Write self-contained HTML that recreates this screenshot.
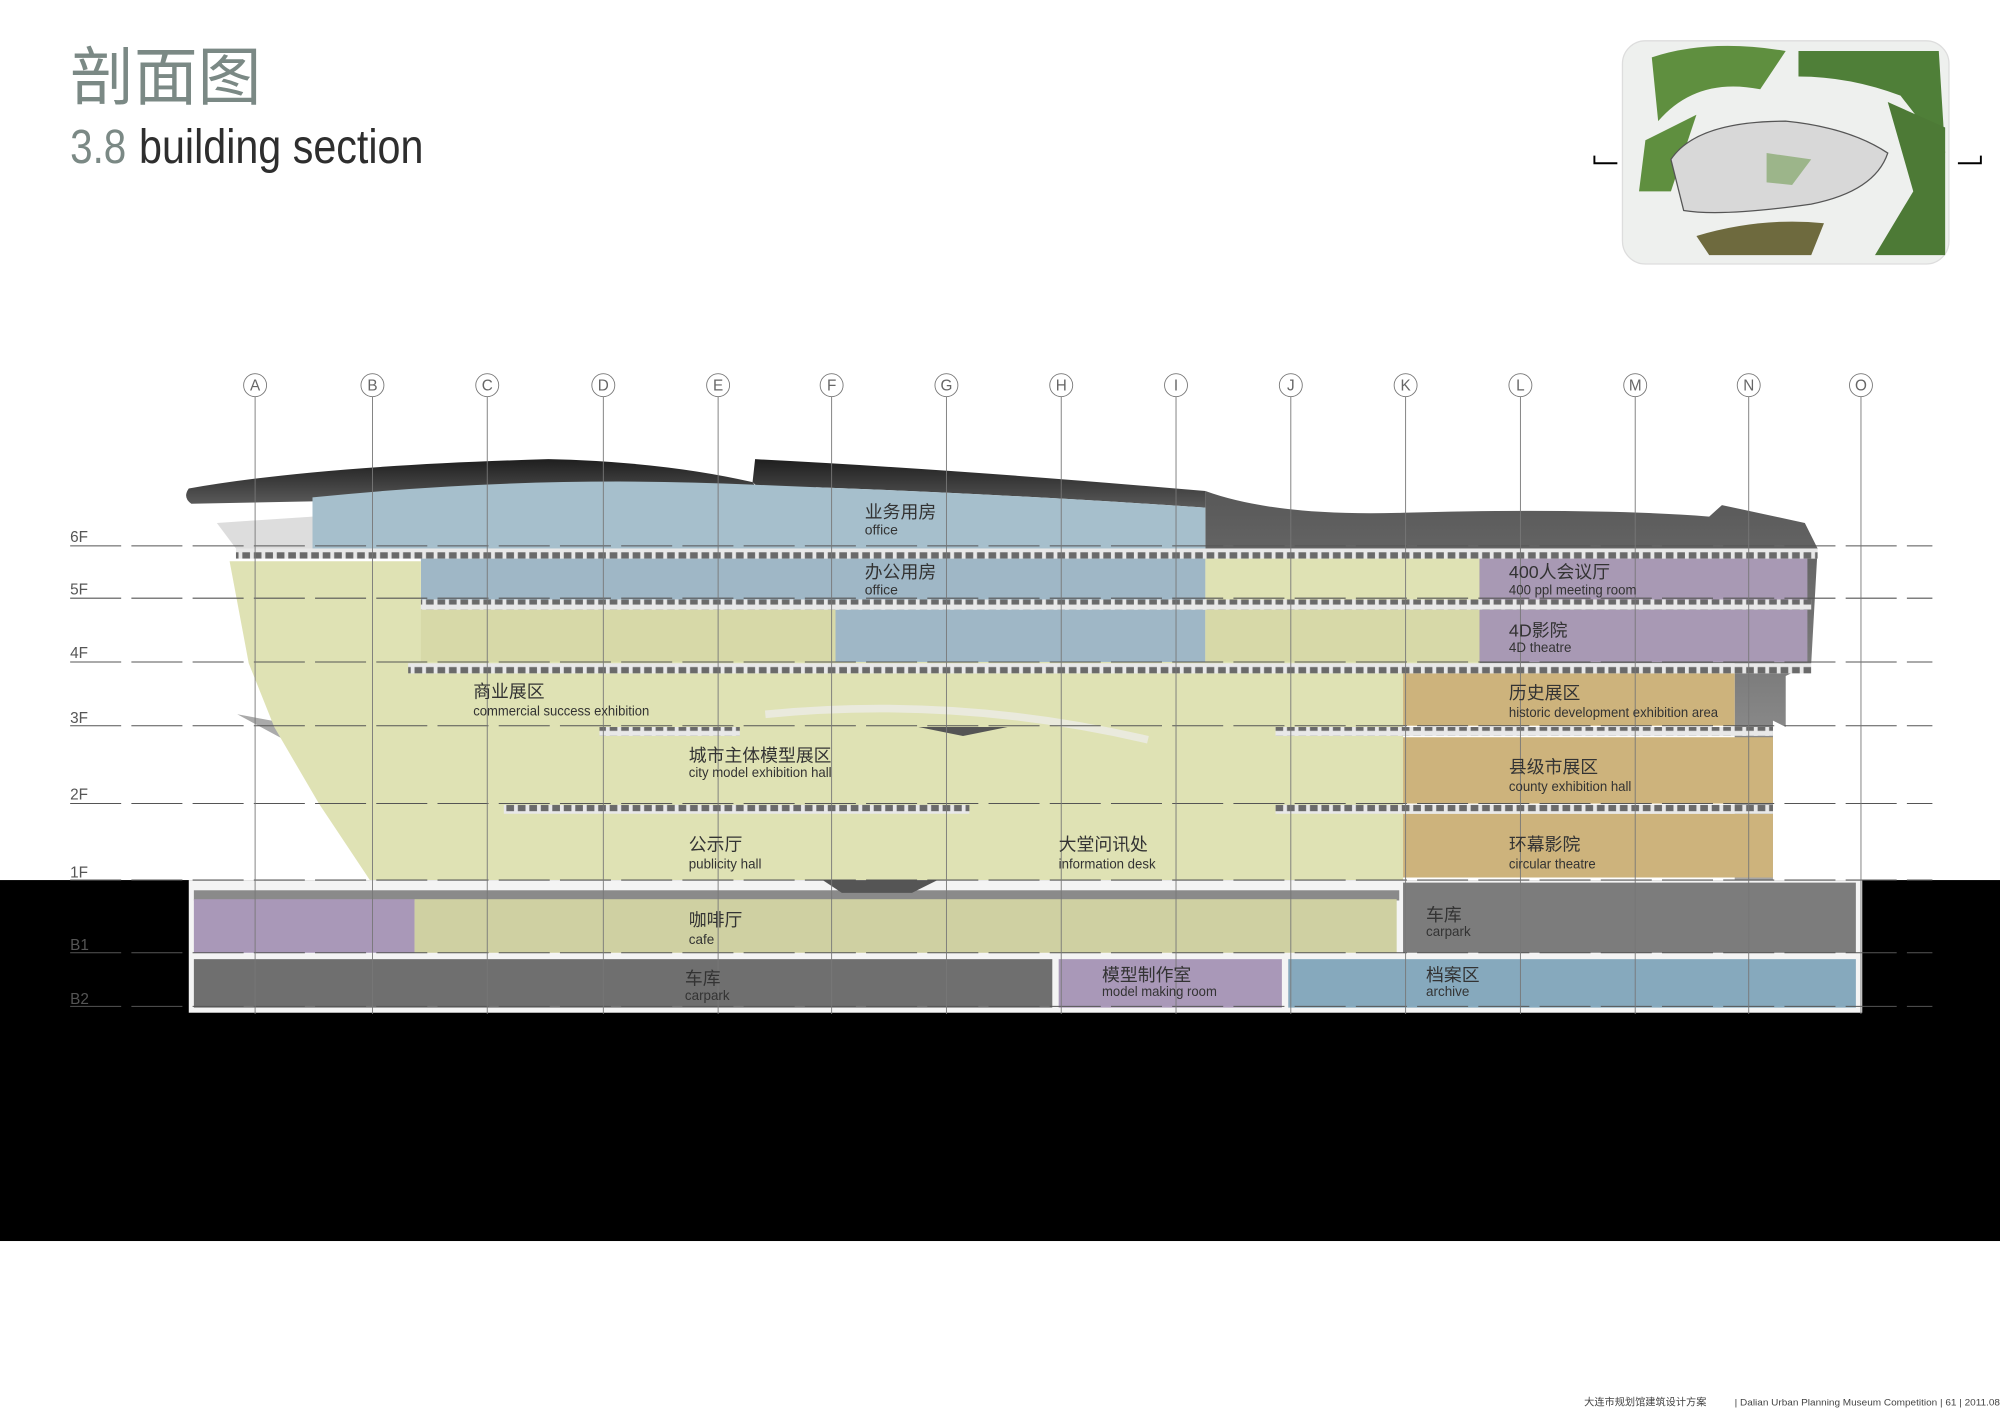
<!DOCTYPE html>
<html><head><meta charset="utf-8"><style>
html,body{margin:0;padding:0;background:#fff;}
svg{display:block;}
text{font-family:"Liberation Sans","Noto Sans CJK SC",sans-serif;}
</style></head><body>
<svg width="2000" height="1415" viewBox="0 0 1568 1109.4" preserveAspectRatio="none" xmlns="http://www.w3.org/2000/svg">
<defs>
<pattern id="slab" x="0" y="0" width="9" height="9" patternUnits="userSpaceOnUse">
<rect width="9" height="9" fill="#e8e8e8"/><rect x="1" y="1" width="6" height="5" fill="#6a6a6a"/>
</pattern>
<linearGradient id="roof" x1="0" y1="0" x2="0" y2="1"><stop offset="0" stop-color="#1e1e1e"/><stop offset="1" stop-color="#5a5a5a"/></linearGradient>
<linearGradient id="mass" x1="0" y1="0" x2="0" y2="1"><stop offset="0" stop-color="#3a3a3a"/><stop offset="1" stop-color="#9a9a9a"/></linearGradient>
</defs>

<!-- title -->
<text x="55" y="78" font-size="50" fill="#7b8985">剖面图</text>
<text x="55" y="128" font-size="38" fill="#7b8985" textLength="44" lengthAdjust="spacingAndGlyphs">3.8</text>
<text x="109" y="128" font-size="38" fill="#2e2e2e" textLength="223" lengthAdjust="spacingAndGlyphs">building section</text>

<!-- minimap -->
<rect x="1272" y="32" width="256" height="175" rx="18" fill="#eef0ee" stroke="#ddd"/>
<path d="M1295 45 Q1340 30 1400 40 L1380 70 Q1330 60 1300 95 Z" fill="#5f8f3f"/>
<path d="M1410 40 L1520 40 L1525 120 L1490 75 Q1450 60 1410 60 Z" fill="#4f7f38"/>
<path d="M1480 80 L1525 100 L1525 200 L1470 200 L1500 150 Z" fill="#4d7a36"/>
<path d="M1290 110 L1330 90 L1310 150 L1285 150 Z" fill="#5f8f3f"/>
<path d="M1330 185 Q1380 170 1430 175 L1420 200 L1340 200 Z" fill="#6e6a3e"/>
<path d="M1310 125 Q1330 95 1400 95 Q1450 100 1480 120 Q1470 150 1420 160 Q1350 170 1320 165 Z" fill="#d8d8d8" stroke="#555" stroke-width="1"/>
<path d="M1385 120 L1420 125 L1405 145 L1385 143 Z" fill="#9cb58a"/>
<path d="M1250 122 L1250 128 L1268 128" fill="none" stroke="#000" stroke-width="1.5"/>
<path d="M1535 128 L1553 128 L1553 122" fill="none" stroke="#000" stroke-width="1.5"/>

<!-- black ground -->
<rect x="0" y="690" width="1568" height="283" fill="#000"/>

<!-- roof and dark mass -->
<path d="M945 385 Q1000 405 1100 402 Q1250 398 1340 405 L1350 396 L1415 410 L1425 430 L1420 520 L1400 530 L1400 570 L1390 565 L1390 700 L1360 690 L1360 520 L945 520 Z" fill="url(#mass)" opacity="0.85"/>
<path d="M148 383 Q250 365 430 360 Q520 362 590 378 L595 385 Q450 375 300 392 L150 395 Q143 390 148 383 Z" fill="url(#roof)"/>
<path d="M592 360 Q750 368 945 385 L945 398 Q800 388 640 382 L605 392 L590 378 Z" fill="url(#roof)"/>
<path d="M170 410 L245 405 L245 430 L185 430 Z" fill="#ddd"/>
<path d="M186 560 L240 570 L260 600 Z" fill="#aaa"/>

<!-- blue office -->
<path d="M245 390 Q420 372 590 380 L640 382 Q800 388 945 398 L945 430 L245 430 Z" fill="#a6bfcc"/>
<rect x="330" y="437" width="615" height="33" fill="#9fb7c6"/>
<rect x="655" y="478" width="290" height="41" fill="#9fb7c6"/>

<!-- yellow main -->
<path d="M180 440 L330 440 L330 478 L655 478 L655 519 L945 519 L945 437 L1160 437 L1160 527 L1100 527 L1100 690 L290 690 L250 630 L215 570 L195 520 Z" fill="#dfe2b4"/>
<rect x="330" y="478" width="325" height="41" fill="#d7d9a8"/>
<rect x="945" y="478" width="215" height="41" fill="#d7d9a8"/>
<path d="M600 560 Q750 545 900 580" fill="none" stroke="#eee" stroke-width="6" opacity="0.7"/>

<!-- purple / orange rooms -->
<rect x="1160" y="437" width="257" height="33" fill="#a899b4"/>
<rect x="1160" y="478" width="257" height="41" fill="#a899b4"/>
<rect x="1100" y="527" width="260" height="42" fill="#cdb37c"/>
<rect x="1100" y="578" width="290" height="52" fill="#cdb37c"/>
<rect x="1100" y="638" width="290" height="50" fill="#cdb37c"/>

<!-- slabs -->
<rect x="185" y="430" width="1240" height="8" fill="url(#slab)"/>
<rect x="330" y="470" width="1090" height="8" fill="url(#slab)"/>
<rect x="320" y="520" width="1100" height="8" fill="url(#slab)"/>
<rect x="470" y="570" width="110" height="7" fill="url(#slab)"/>
<rect x="1000" y="570" width="390" height="7" fill="url(#slab)"/>
<rect x="395" y="631" width="365" height="7" fill="url(#slab)"/>
<rect x="1000" y="631" width="390" height="7" fill="url(#slab)"/>
<path d="M720 570 L790 570 L755 577 Z" fill="#555"/>

<!-- basement -->
<rect x="148" y="690" width="1312" height="104" fill="#f4f4f4"/>
<rect x="152" y="698" width="945" height="8" fill="#8a8a8a"/>
<rect x="152" y="705" width="173" height="42" fill="#a998b8"/>
<rect x="325" y="705" width="770" height="42" fill="#cfd0a2"/>
<rect x="1100" y="692" width="355" height="55" fill="#7c7c7c"/>
<rect x="152" y="752" width="673" height="38" fill="#6f6f6f"/>
<rect x="830" y="752" width="175" height="38" fill="#a998b8"/>
<rect x="1010" y="752" width="445" height="38" fill="#86a9bd"/>
<path d="M645 690 L735 690 L715 700 L660 700 Z" fill="#555"/>

<!-- floor lines -->
<g stroke="#555" stroke-width="0.8" stroke-dasharray="40 8">
<line x1="55" y1="428" x2="1515" y2="428"/>
<line x1="55" y1="469" x2="1515" y2="469"/>
<line x1="55" y1="519" x2="1515" y2="519"/>
<line x1="55" y1="569" x2="1515" y2="569"/>
<line x1="55" y1="630" x2="1515" y2="630"/>
<line x1="55" y1="690" x2="1515" y2="690"/>
<line x1="55" y1="747" x2="1515" y2="747"/>
<line x1="55" y1="789" x2="1515" y2="789"/>
</g>
<g font-size="12" fill="#555">
<text x="55" y="425">6F</text><text x="55" y="466">5F</text><text x="55" y="516">4F</text>
<text x="55" y="567">3F</text><text x="55" y="627">2F</text><text x="55" y="688">1F</text>
<text x="55" y="745">B1</text><text x="55" y="787">B2</text>
</g>

<!-- grid -->
<g stroke="#777" stroke-width="0.7" fill="none">
<circle cx="200" cy="302" r="9"/><circle cx="292" cy="302" r="9"/><circle cx="382" cy="302" r="9"/>
<circle cx="473" cy="302" r="9"/><circle cx="563" cy="302" r="9"/><circle cx="652" cy="302" r="9"/>
<circle cx="742" cy="302" r="9"/><circle cx="832" cy="302" r="9"/><circle cx="922" cy="302" r="9"/>
<circle cx="1012" cy="302" r="9"/><circle cx="1102" cy="302" r="9"/><circle cx="1192" cy="302" r="9"/>
<circle cx="1282" cy="302" r="9"/><circle cx="1371" cy="302" r="9"/><circle cx="1459" cy="302" r="9"/>
<path d="M200 311V795M292 311V795M382 311V795M473 311V795M563 311V795M652 311V795M742 311V795M832 311V795M922 311V795M1012 311V795M1102 311V795M1192 311V795M1282 311V795M1371 311V795M1459 311V795"/>
</g>
<g font-size="12" fill="#666" text-anchor="middle">
<text x="200" y="306">A</text><text x="292" y="306">B</text><text x="382" y="306">C</text><text x="473" y="306">D</text>
<text x="563" y="306">E</text><text x="652" y="306">F</text><text x="742" y="306">G</text><text x="832" y="306">H</text>
<text x="922" y="306">I</text><text x="1012" y="306">J</text><text x="1102" y="306">K</text><text x="1192" y="306">L</text>
<text x="1282" y="306">M</text><text x="1371" y="306">N</text><text x="1459" y="306">O</text>
</g>

<!-- labels -->
<g font-size="14" fill="#333">
<text x="678" y="406">业务用房</text><text x="678" y="453">办公用房</text>
<text x="1183" y="453">400人会议厅</text><text x="1183" y="499">4D影院</text>
<text x="371" y="547">商业展区</text><text x="1183" y="548">历史展区</text>
<text x="540" y="597">城市主体模型展区</text><text x="1183" y="606">县级市展区</text>
<text x="540" y="667">公示厅</text><text x="830" y="667">大堂问讯处</text><text x="1183" y="667">环幕影院</text>
<text x="540" y="726">咖啡厅</text><text x="1118" y="722">车库</text>
<text x="537" y="772">车库</text><text x="864" y="769">模型制作室</text><text x="1118" y="769">档案区</text>
</g>
<g font-size="11" fill="#333">
<text x="678" y="419" textLength="26" lengthAdjust="spacingAndGlyphs">office</text>
<text x="678" y="466" textLength="26" lengthAdjust="spacingAndGlyphs">office</text>
<text x="1183" y="466" textLength="100" lengthAdjust="spacingAndGlyphs">400 ppl meeting room</text>
<text x="1183" y="511" textLength="49" lengthAdjust="spacingAndGlyphs">4D theatre</text>
<text x="371" y="561" textLength="138" lengthAdjust="spacingAndGlyphs">commercial success exhibition</text>
<text x="1183" y="562" textLength="164" lengthAdjust="spacingAndGlyphs">historic development exhibition area</text>
<text x="540" y="609" textLength="112" lengthAdjust="spacingAndGlyphs">city model exhibition hall</text>
<text x="1183" y="620" textLength="96" lengthAdjust="spacingAndGlyphs">county exhibition hall</text>
<text x="540" y="681" textLength="57" lengthAdjust="spacingAndGlyphs">publicity hall</text>
<text x="830" y="681" textLength="76" lengthAdjust="spacingAndGlyphs">information desk</text>
<text x="1183" y="681" textLength="68" lengthAdjust="spacingAndGlyphs">circular theatre</text>
<text x="540" y="740" textLength="20" lengthAdjust="spacingAndGlyphs">cafe</text>
<text x="1118" y="734" textLength="35" lengthAdjust="spacingAndGlyphs">carpark</text>
<text x="537" y="784" textLength="35" lengthAdjust="spacingAndGlyphs">carpark</text>
<text x="864" y="781" textLength="90" lengthAdjust="spacingAndGlyphs">model making room</text>
<text x="1118" y="781" textLength="34" lengthAdjust="spacingAndGlyphs">archive</text>
</g>

<!-- footer -->
<text x="1242" y="1102" font-size="8" fill="#444">大连市规划馆建筑设计方案</text>
<text x="1360" y="1102" font-size="7" fill="#444" textLength="208" lengthAdjust="spacingAndGlyphs">| Dalian Urban Planning Museum Competition | 61 | 2011.08</text>
</svg>
</body></html>
